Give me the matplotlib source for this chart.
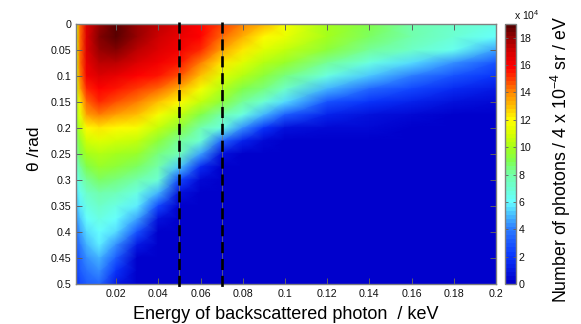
import numpy as np
import matplotlib
matplotlib.use("Agg")
import matplotlib.pyplot as plt
from matplotlib.colors import LinearSegmentedColormap, Normalize

plt.rcParams['font.family'] = ['Liberation Sans', 'DejaVu Sans']
plt.rcParams['mathtext.default'] = 'regular'

energy = [0.001,0.003,0.006,0.012,0.02,0.03,0.04,0.05,0.06,0.07,0.08,0.09,0.1,0.12,0.14,0.16,0.18,0.2]
theta = [0,0.025,0.05,0.075,0.1,0.125,0.15,0.175,0.2,0.225,0.25,0.275,0.3,0.325,0.35,0.375,0.4,0.425,0.45,0.475,0.5]
z = [
[10.8,14.5,16.8,18,19,18,17.3,16.8,16,15,14,13.2,11.7,10,9,8,7.3,6.6],
[10.8,14.5,16.8,18.2,18.9,17.9,17.1,16.6,15.8,14.4,13.2,12.1,11.3,9.8,8.7,7.8,7.0,6.2],
[10.8,14.5,16.7,18,18.3,17.5,16.8,16.3,15.4,13.5,12.3,11.2,10.6,9.3,8.2,7.4,6.3,4.7],
[10.8,14.4,16.5,17.5,17.5,16.8,16.2,15.7,14.1,12.3,11.1,10.3,9.6,8.1,6.8,5.5,4.3,2.9],
[10.7,14.2,16.2,16.8,16.5,16,15.5,14.8,12.9,11.2,10.1,9.4,8.6,6.6,5.1,3.9,2.9,1.8],
[10.4,13.4,15.4,16,15.7,15,14.3,13.2,11.7,10.3,9.2,8.4,7.3,4.8,3.3,2.4,1.7,1.0],
[10,12.4,14.5,15.2,14.8,14,13,12,10.5,9.3,8.2,7.1,5.5,2.8,1.9,1.3,.8,.4],
[9.6,11.4,13.4,14,13.5,12.8,11.7,10.5,9.2,8,6.8,4.9,3,1.3,.8,.5,.25,.1],
[9,10.5,12,12.4,12,11.6,10.5,9.3,8,6.6,4.2,2,.8,.5,.3,.1,0,0],
[8.5,9.7,10.9,11.2,10.9,10.5,9.3,8.2,7,3.5,1.2,.4,.15,.1,0,0,0,0],
[8,9,10,10.3,10,9.7,8.6,7.5,4.5,.7,.2,0,0,0,0,0,0,0],
[7,8.2,9.2,9.5,9.3,8.8,7.8,5.3,1.5,.2,0,0,0,0,0,0,0,0],
[6,7.3,8.3,8.7,8.5,7.8,7,2.6,.3,0,0,0,0,0,0,0,0,0],
[5.5,6.5,7.4,7.9,7.6,6.7,4.8,.8,.1,0,0,0,0,0,0,0,0,0],
[5,5.9,6.6,7.2,6.7,5.7,2.6,.2,0,0,0,0,0,0,0,0,0,0],
[4.3,5.3,6,6.6,6.1,4.5,.7,0,0,0,0,0,0,0,0,0,0,0],
[3.5,4.7,5.4,6.1,5.5,2.8,.2,0,0,0,0,0,0,0,0,0,0,0],
[3,4.1,4.9,5.7,4.3,.9,0,0,0,0,0,0,0,0,0,0,0,0],
[2.5,3.5,4.3,4.9,3,.2,0,0,0,0,0,0,0,0,0,0,0,0],
[2.2,3,3.7,4.2,1.9,.05,0,0,0,0,0,0,0,0,0,0,0,0],
[2,2.5,3.1,3.5,.9,0,0,0,0,0,0,0,0,0,0,0,0,0],
]
marker_energies = [0.05, 0.07]
xticks = [0.02,0.04,0.06,0.08,0.1,0.12,0.14,0.16,0.18,0.2]
xticklabels = ['0.02','0.04','0.06','0.08','0.1','0.12','0.14','0.16','0.18','0.2']
yticks = [0,0.05,0.1,0.15,0.2,0.25,0.3,0.35,0.4,0.45,0.5]
yticklabels = ['0','0.05','0.1','0.15','0.2','0.25','0.3','0.35','0.4','0.45','0.5']
cbar_ticks = [0,2,4,6,8,10,12,14,16,18]

vmax = 19.0
nodes = [(0,(0,0,0.8)),(2,(0.04,0.22,1)),(4,(0.18,0.5,1)),(5,(0.28,0.75,1)),(6,(0.4,1,1)),
         (8,(0.45,1,0.65)),(9,(0.5,1,0.3)),(10,(0.65,1,0.1)),(11,(0.85,1,0)),(12,(1,1,0)),
         (13,(1,0.75,0)),(14,(1,0.55,0)),(15,(1,0.25,0)),(16,(1,0,0)),(17,(0.85,0,0)),
         (18,(0.62,0,0)),(19,(0.35,0,0))]
cmap = LinearSegmentedColormap.from_list('custom', [(v/vmax, c) for v, c in nodes], N=64)

fig = plt.figure(figsize=(5.81, 3.24), dpi=100)
W, H = 581, 324
ax = fig.add_axes([76/W, 1-284/H, 420/W, 260/H])
mesh = ax.pcolormesh(energy, theta, np.array(z), cmap=cmap, norm=Normalize(0, vmax), shading='gouraud')
ax.set_xlim(0.001, 0.2)
ax.set_ylim(0.5, 0)
ax.set_xticks(xticks, xticklabels)
ax.set_yticks(yticks, yticklabels)
grey = '#808080'
ax.tick_params(direction='in', length=4, width=0.7, color='#606060', top=True, right=True,
               labelsize=7.7, pad=3.5, labelcolor='#111111')
for s in ax.spines.values():
    s.set_color(grey); s.set_linewidth(1.0)
for e in marker_energies:
    ax.axvline(e, color='#777777', lw=0.5, zorder=3)
    ax.plot([e, e], [-0.003, 0.505], color='black', lw=1.9, dashes=(4.2, 2.2), clip_on=False, zorder=4)
ax.set_xlabel('Energy of backscattered photon  / keV', fontsize=13, labelpad=5)
ax.set_ylabel('θ /rad', fontsize=12.5, labelpad=6, y=0.52)

cax = fig.add_axes([505/W, 1-284/H, 11/W, 260/H])
cb = fig.colorbar(mesh, cax=cax, ticks=cbar_ticks)
cb.ax.tick_params(direction='in', length=2.5, width=0.6, color='#606060', left=True, right=True,
                  labelsize=7.7, pad=2, labelcolor='#111111')
cb.outline.set_edgecolor(grey); cb.outline.set_linewidth(1.0)
fig.text(527/W, 1-15/H, r'x 10$^{4}$', fontsize=7.5, ha='center', va='center', color='#111111')
fig.text(561/W, 1-159/H, 'Number of photons / 4 x 10$^{-4}$ sr / eV', rotation=90, fontsize=12.8,
         ha='center', va='center')
fig.savefig('out.png', dpi=100)
